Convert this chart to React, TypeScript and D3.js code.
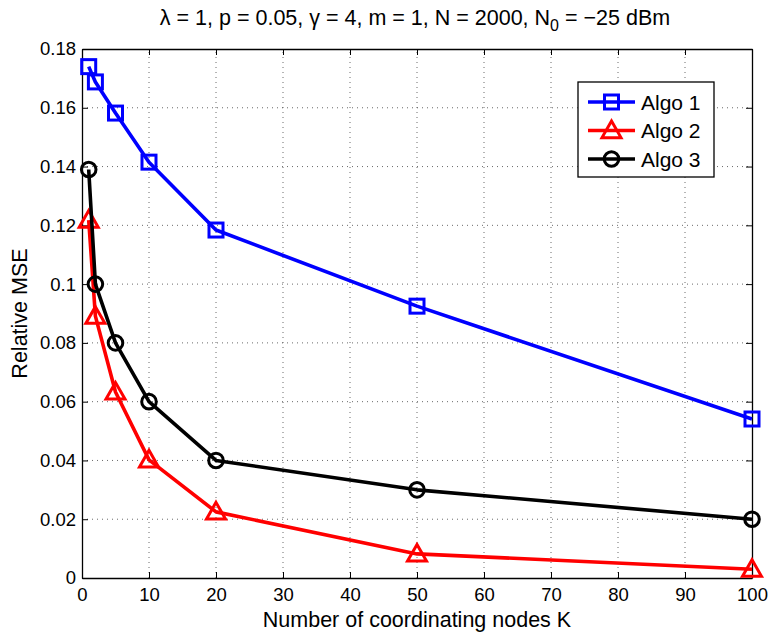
import React, { useEffect, useRef } from "react";
import * as d3 from "d3";

const kValues = [1, 2, 5, 10, 20, 50, 100];
const algo1 = [0.174, 0.1688, 0.1582, 0.1415, 0.1184, 0.0925, 0.0541];
const algo2 = [0.1218, 0.0891, 0.0633, 0.0402, 0.0225, 0.0082, 0.003];
const algo3 = [0.139, 0.1, 0.08, 0.06, 0.04, 0.03, 0.02];
const seriesNames = ["Algo 1", "Algo 2", "Algo 3"];
const xTicks = [0, 10, 20, 30, 40, 50, 60, 70, 80, 90, 100];
const yTicks = [0, 0.02, 0.04, 0.06, 0.08, 0.1, 0.12, 0.14, 0.16, 0.18];

const WIDTH = 769;
const HEIGHT = 634;
const MARGIN = { TOP: 49, RIGHT: 17, BOTTOM: 56, LEFT: 82 };
const FONT = "Liberation Sans, Arial, Helvetica, sans-serif";

const SERIES = [
  { name: seriesNames[0], values: algo1, color: "#0000ff", marker: "square" },
  { name: seriesNames[1], values: algo2, color: "#ff0000", marker: "triangle" },
  { name: seriesNames[2], values: algo3, color: "#000000", marker: "circle" },
];

const drawMarker = (g, type, color, x, y) => {
  if (type === "square") {
    g.append("rect")
      .attr("x", x - 7)
      .attr("y", y - 7)
      .attr("width", 14)
      .attr("height", 14)
      .attr("fill", "none")
      .attr("stroke", color)
      .attr("stroke-width", 3);
  } else if (type === "triangle") {
    const s = 9.5;
    g.append("path")
      .attr("d", `M${x},${y - s} L${x + s},${y + s * 0.75} L${x - s},${y + s * 0.75} Z`)
      .attr("fill", "none")
      .attr("stroke", color)
      .attr("stroke-width", 3);
  } else {
    g.append("circle")
      .attr("cx", x)
      .attr("cy", y)
      .attr("r", 7.3)
      .attr("fill", "none")
      .attr("stroke", color)
      .attr("stroke-width", 3);
  }
};

const Chart = () => {
  const svgRef = useRef(null);

  useEffect(() => {
    document.body.style.margin = "0";
    document.body.style.overflow = "hidden";
    document.documentElement.style.overflow = "hidden";

    const svg = d3.select(svgRef.current);
    svg.selectAll("*").remove();

    const xScale = d3.scaleLinear().domain([0, 100]).range([MARGIN.LEFT, WIDTH - MARGIN.RIGHT]);
    const yScale = d3.scaleLinear().domain([0, 0.18]).range([HEIGHT - MARGIN.BOTTOM, MARGIN.TOP]);
    const x0 = MARGIN.LEFT;
    const x1 = WIDTH - MARGIN.RIGHT;
    const y0 = HEIGHT - MARGIN.BOTTOM;
    const y1 = MARGIN.TOP;

    svg.append("rect").attr("width", WIDTH).attr("height", HEIGHT).attr("fill", "#fff");

    // grid
    const grid = svg.append("g").attr("stroke", "#444").attr("stroke-width", 0.8).attr("stroke-dasharray", "1,4");
    xTicks.slice(1, -1).forEach((t) => {
      grid.append("line").attr("x1", xScale(t)).attr("x2", xScale(t)).attr("y1", y0).attr("y2", y1);
    });
    yTicks.slice(1, -1).forEach((t) => {
      grid.append("line").attr("x1", x0).attr("x2", x1).attr("y1", yScale(t)).attr("y2", yScale(t));
    });

    // axes with inward ticks on all sides
    const bottom = svg.append("g").attr("transform", `translate(0,${y0})`)
      .call(d3.axisBottom(xScale).tickValues(xTicks).tickSizeInner(-6).tickSizeOuter(0).tickPadding(10).tickFormat(d3.format("d")));
    const top = svg.append("g").attr("transform", `translate(0,${y1})`)
      .call(d3.axisTop(xScale).tickValues(xTicks).tickSizeInner(-6).tickSizeOuter(0).tickFormat(() => ""));
    const left = svg.append("g").attr("transform", `translate(${x0},0)`)
      .call(d3.axisLeft(yScale).tickValues(yTicks).tickSizeInner(-6).tickSizeOuter(0).tickPadding(6).tickFormat((d) => (d === 0 ? "0" : String(+d.toFixed(2)))));
    const right = svg.append("g").attr("transform", `translate(${x1},0)`)
      .call(d3.axisRight(yScale).tickValues(yTicks).tickSizeInner(-6).tickSizeOuter(0).tickFormat(() => ""));
    [bottom, top, left, right].forEach((a) => {
      a.selectAll("path").attr("stroke", "#000").attr("stroke-width", 1.3);
      a.selectAll("line").attr("stroke", "#000");
      a.selectAll("text").attr("font-family", FONT).attr("font-size", 18.5).attr("fill", "#000");
    });

    // series
    const line = d3.line().x((d) => xScale(d[0])).y((d) => yScale(d[1]));
    SERIES.forEach((s) => {
      const pts = kValues.map((k, i) => [k, s.values[i]]);
      svg.append("path")
        .attr("d", line(pts))
        .attr("fill", "none")
        .attr("stroke", s.color)
        .attr("stroke-width", 3.6)
        .attr("stroke-linejoin", "round");
      const mg = svg.append("g");
      pts.forEach((p) => drawMarker(mg, s.marker, s.color, xScale(p[0]), yScale(p[1])));
    });

    // legend
    const lg = svg.append("g").attr("transform", "translate(578,82)");
    lg.append("rect").attr("width", 136).attr("height", 95).attr("fill", "#fff").attr("stroke", "#000").attr("stroke-width", 1.3);
    SERIES.forEach((s, i) => {
      const y = 20 + i * 28.5;
      lg.append("line").attr("x1", 10).attr("x2", 57).attr("y1", y).attr("y2", y)
        .attr("stroke", s.color).attr("stroke-width", 3.6);
      drawMarker(lg, s.marker, s.color, 33.5, y);
      lg.append("text").attr("x", 63).attr("y", y).attr("dy", "0.36em")
        .attr("font-family", FONT).attr("font-size", 21).text(s.name);
    });

    // labels
    svg.append("text").attr("x", (x0 + x1) / 2).attr("y", 627).attr("text-anchor", "middle")
      .attr("font-family", FONT).attr("font-size", 21.5).text("Number of coordinating nodes K");
    svg.append("text").attr("transform", `translate(27,${(y0 + y1) / 2}) rotate(-90)`).attr("text-anchor", "middle")
      .attr("font-family", FONT).attr("font-size", 21.5).text("Relative MSE");

    const title = svg.append("text").attr("x", 415).attr("y", 25).attr("text-anchor", "middle")
      .attr("font-family", FONT).attr("font-size", 21.5);
    title.append("tspan").text("λ = 1, p = 0.05, γ = 4, m = 1, N = 2000, N");
    title.append("tspan").attr("dy", 6).attr("font-size", 16).text("0");
    title.append("tspan").attr("dy", -6).text(" = −25 dBm");
  }, []);

  return <svg ref={svgRef} width={WIDTH} height={HEIGHT} style={{ display: "block" }}></svg>;
};

export default function App() {
  return <Chart />;
}
